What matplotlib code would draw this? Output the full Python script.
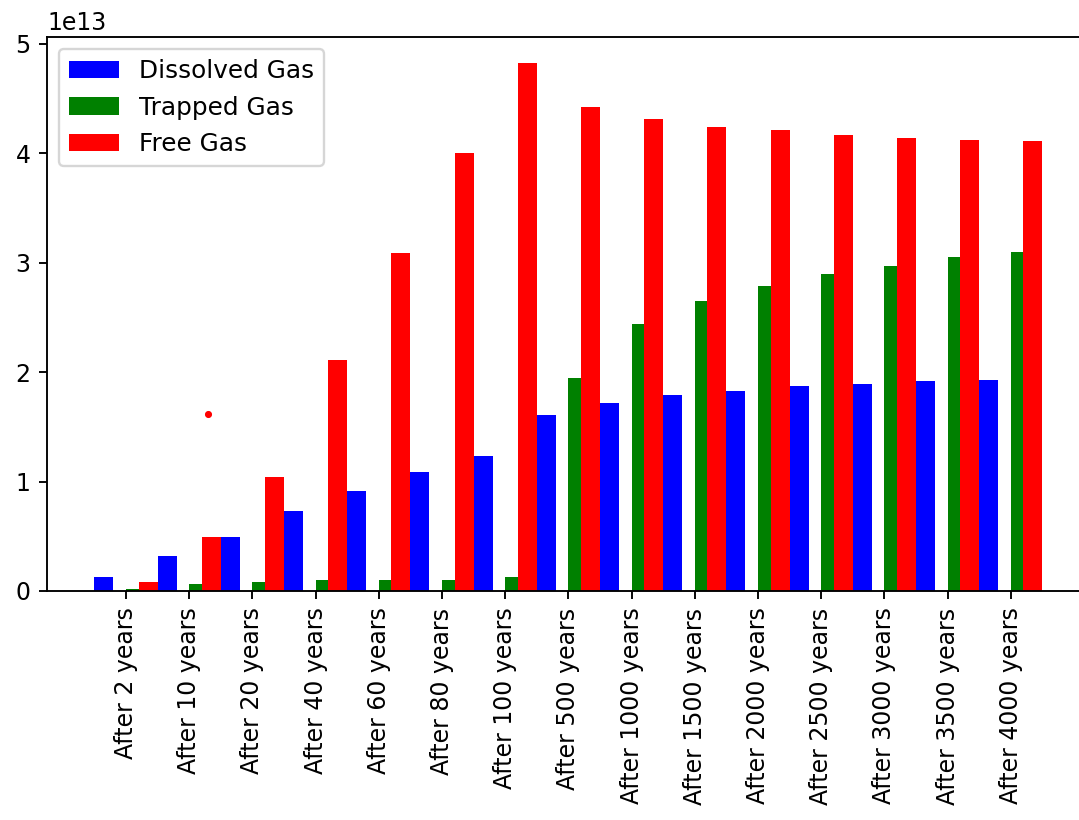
import numpy as np
from matplotlib import pyplot as plt

labels = ['After 2 years', 'After 10 years', 'After 20 years', 'After 40 years',
          'After 60 years', 'After 80 years', 'After 100 years', 'After 500 years',
          'After 1000 years', 'After 1500 years', 'After 2000 years', 'After 2500 years',
          'After 3000 years', 'After 3500 years', 'After 4000 years']

# values in units of 1e13
dissolved = [0.13, 0.32, 0.49, 0.73, 0.91, 1.09, 1.23, 1.61, 1.72, 1.79,
             1.83, 1.87, 1.89, 1.92, 1.93]
trapped = [0.02, 0.06, 0.08, 0.10, 0.10, 0.10, 0.13, 1.95, 2.44, 2.65,
           2.79, 2.90, 2.97, 3.05, 3.10]
free = [0.08, 0.49, 1.04, 2.11, 3.09, 4.00, 4.82, 4.42, 4.31, 4.24,
        4.21, 4.17, 4.14, 4.12, 4.11]

# stray dot seen in the picture
dot_x = [1.3]
dot_y = [1.62]

scale = 1e13
dpi = 170
fig = plt.figure(figsize=(1079 / dpi, 820 / dpi), dpi=dpi)
ax = fig.add_axes([47 / 1079, 1 - 591 / 820, 16.5 * 63.2 / 1079, (591 - 37) / 820])

x = np.arange(len(labels))
ax.bar(x - 0.35, np.array(dissolved) * scale, width=0.3, color='blue', label='Dissolved Gas')
ax.bar(x + 0.1, np.array(trapped) * scale, width=0.2, color='green', label='Trapped Gas')
ax.bar(x + 0.35, np.array(free) * scale, width=0.3, color='red', label='Free Gas')
ax.scatter(np.array(dot_x), np.array(dot_y) * scale, s=4, color='red', zorder=3)

ax.set_xticks(x)
ax.set_xticklabels(labels, rotation=90)
ax.legend(loc='upper left', fontsize=10.5)

fig.savefig('out.png', dpi=dpi)
